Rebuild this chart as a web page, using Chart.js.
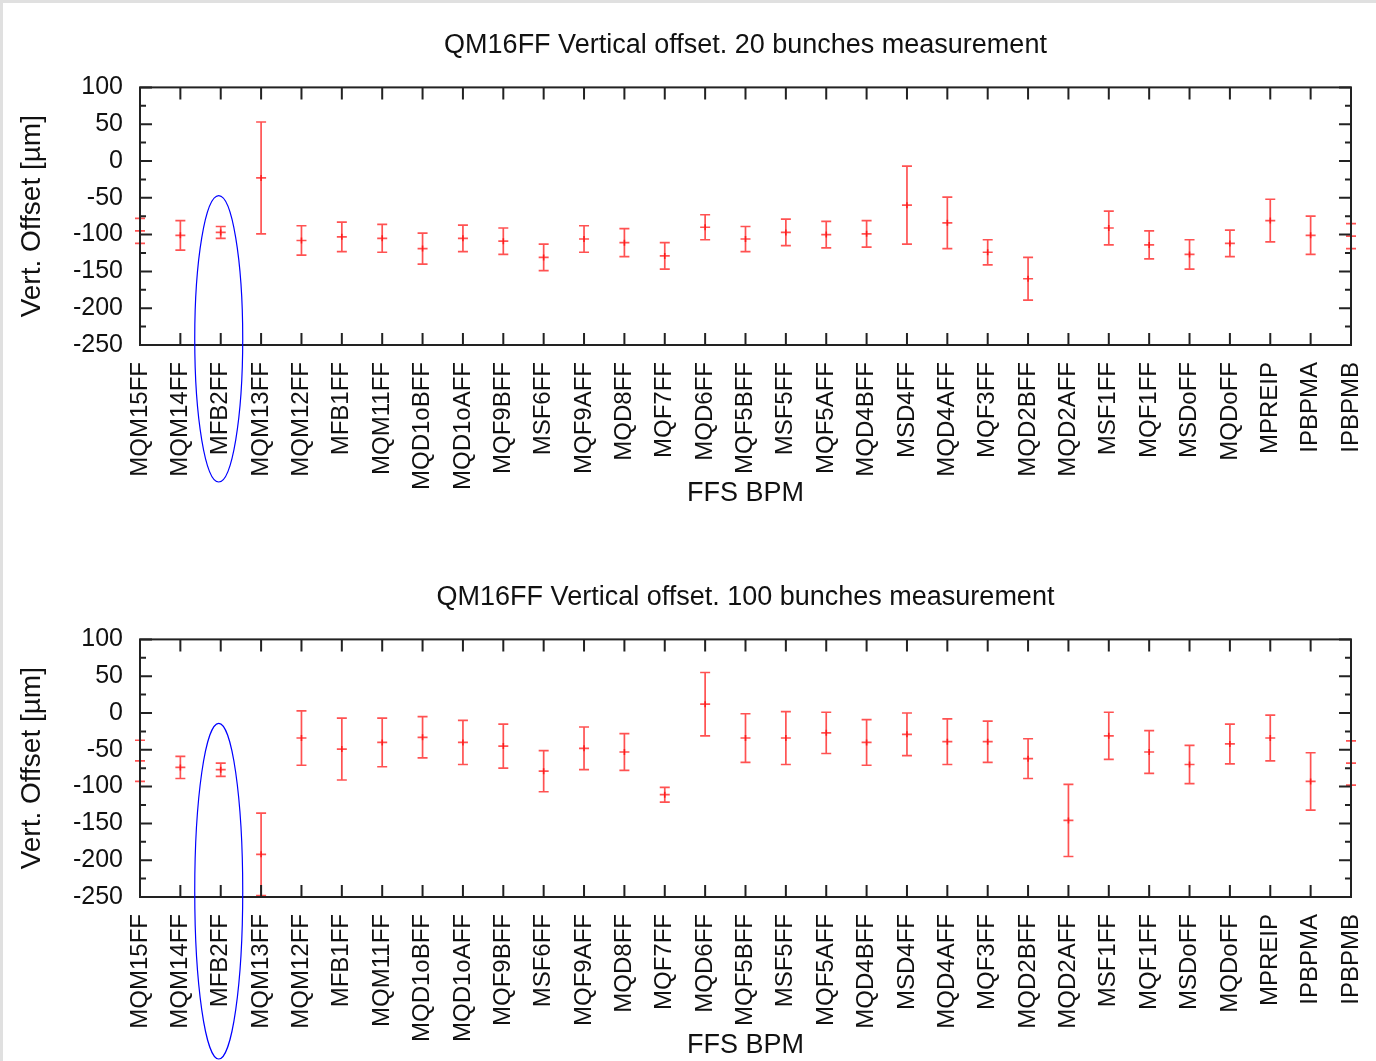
<!DOCTYPE html>
<html>
<head>
<meta charset="utf-8">
<script src="https://cdn.jsdelivr.net/npm/chart.js@4.4.0/dist/chart.umd.min.js"></script>
<style>
  html, body { margin: 0; padding: 0; background: #fff; overflow: hidden; }
  #page { position: relative; width: 1376px; height: 1061px; }
  #page canvas { position: absolute; left: 0; }
  .edge-top { position: absolute; left: 0; top: 0; width: 1376px; height: 3px; background: #e0e0e0; }
  .edge-left { position: absolute; left: 0; top: 0; width: 3px; height: 1061px; background: #e0e0e0; }
</style>
</head>
<body>
<div id="page">
  <canvas id="chart20" width="1376" height="510" style="top:0"></canvas>
  <canvas id="chart100" width="1376" height="510" style="top:552px"></canvas>
  <div class="edge-top"></div>
  <div class="edge-left"></div>
</div>
<script>
// BPM names along the final focus, upstream to IP
const bpmLabels = [
  "MQM15FF", "MQM14FF", "MFB2FF", "MQM13FF", "MQM12FF", "MFB1FF", "MQM11FF",
  "MQD1oBFF", "MQD1oAFF", "MQF9BFF", "MSF6FF", "MQF9AFF", "MQD8FF", "MQF7FF",
  "MQD6FF", "MQF5BFF", "MSF5FF", "MQF5AFF", "MQD4BFF", "MSD4FF", "MQD4AFF",
  "MQF3FF", "MQD2BFF", "MQD2AFF", "MSF1FF", "MQF1FF", "MSDoFF", "MQDoFF",
  "MPREIP", "IPBPMA", "IPBPMB"
];

// vertical offset [um] and its error, 20 bunches
const offset20 = [
  -95, -101, -97, -23, -108, -103, -105, -119, -105, -109, -131, -106, -111, -129,
  -90, -106, -97, -100, -99, -60, -84, -124, -160, null, -91, -114, -127, -112,
  -81, -101, -102
];
const error20 = [
  17, 20, 8, 76, 20, 20, 19, 21, 18, 18, 18, 18, 19, 18,
  17, 17, 18, 18, 18, 53, 35, 17, 29, null, 23, 19, 20, 18,
  29, 26, 17
];

// vertical offset [um] and its error, 100 bunches
const offset100 = [
  -65, -74, -77, -192, -34, -49, -40, -33, -40, -45, -79, -48, -53, -111,
  12, -34, -34, -27, -40, -29, -39, -39, -62, -146, -31, -53, -70, -42,
  -34, -93, -68
];
const error100 = [
  28, 15, 9, 56, 37, 42, 33, 28, 30, 30, 28, 29, 25, 10,
  43, 33, 36, 28, 31, 29, 31, 28, 27, 49, 32, 29, 26, 27,
  31, 39, 30
];

const yTicks = { min: -250, max: 100, step: 50 };

Chart.defaults.font.family = '"Liberation Sans", Arial, Helvetica, sans-serif';
Chart.defaults.color = "#111";

const frameColor = "#222";
const barColor = "rgba(255, 0, 0, 0.68)";

// gnuplot-like box with inward ticks on all four sides
const framePlugin = {
  id: "frame",
  afterDraw(chart) {
    const { ctx, chartArea: a } = chart;
    const xs = chart.scales.x;
    const ys = chart.scales.y;
    ctx.save();
    ctx.strokeStyle = frameColor;
    ctx.lineWidth = 2;
    ctx.strokeRect(a.left, a.top, a.right - a.left, a.bottom - a.top);

    ctx.beginPath();
    xs.ticks.forEach((t, i) => {
      const px = xs.getPixelForTick(i);
      ctx.moveTo(px, a.top);
      ctx.lineTo(px, a.top + 12);
      ctx.moveTo(px, a.bottom);
      ctx.lineTo(px, a.bottom - 12);
    });
    ys.ticks.forEach((t, i) => {
      const py = ys.getPixelForValue(t.value);
      ctx.moveTo(a.left, py);
      ctx.lineTo(a.left + 12, py);
      ctx.moveTo(a.right, py);
      ctx.lineTo(a.right - 12, py);
      if (i < ys.ticks.length - 1) {
        const pm = ys.getPixelForValue((t.value + ys.ticks[i + 1].value) / 2);
        ctx.moveTo(a.left, pm);
        ctx.lineTo(a.left + 6, pm);
        ctx.moveTo(a.right, pm);
        ctx.lineTo(a.right - 6, pm);
      }
    });
    ctx.stroke();
    ctx.restore();
  }
};

// error bars with caps and a small cross on the mean
const errorBarPlugin = {
  id: "errorBars",
  afterDatasetsDraw(chart) {
    const { ctx } = chart;
    const xs = chart.scales.x;
    const ys = chart.scales.y;
    const ds = chart.data.datasets[0];
    const cap = 5;
    const cross = 5;
    ctx.save();
    ctx.strokeStyle = barColor;
    ctx.lineWidth = 1.7;
    ds.data.forEach((v, i) => {
      if (v == null) return;
      const e = ds.errors[i];
      const px = xs.getPixelForValue(i);
      const yHi = ys.getPixelForValue(v + e);
      const yMid = ys.getPixelForValue(v);
      const yLo = ys.getPixelForValue(v - e);
      ctx.beginPath();
      ctx.moveTo(px, yHi);
      ctx.lineTo(px, yLo);
      ctx.moveTo(px - cap, yHi);
      ctx.lineTo(px + cap, yHi);
      ctx.moveTo(px - cap, yLo);
      ctx.lineTo(px + cap, yLo);
      ctx.stroke();
      // the mean is marked a little stronger
      ctx.beginPath();
      ctx.moveTo(px - cross, yMid);
      ctx.lineTo(px + cross, yMid);
      ctx.moveTo(px, yMid - 3);
      ctx.lineTo(px, yMid + 3);
      ctx.stroke();
    });
    ctx.restore();
  }
};

// blue ring drawn around one BPM label and its bar
function ringPlugin(index, topValue, belowAxis) {
  return {
    id: "ring",
    afterDraw(chart) {
      const { ctx, chartArea: a } = chart;
      const cx = chart.scales.x.getPixelForValue(index) - 2;
      const top = chart.scales.y.getPixelForValue(topValue);
      const bottom = a.bottom + belowAxis;
      ctx.save();
      ctx.strokeStyle = "#0000ff";
      ctx.lineWidth = 1.2;
      ctx.beginPath();
      ctx.ellipse(cx, (top + bottom) / 2, 24, (bottom - top) / 2, 0, 0, Math.PI * 2);
      ctx.stroke();
      ctx.restore();
    }
  };
}

function makePanel(id, title, values, errors, ring) {
  return new Chart(document.getElementById(id), {
    type: "line",
    data: {
      labels: bpmLabels,
      datasets: [{
        data: values,
        errors: errors,
        showLine: false,
        pointRadius: 0,
        pointHoverRadius: 0
      }]
    },
    options: {
      responsive: false,
      animation: false,
      events: [],
      layout: { padding: { left: 0, right: 25, top: 0, bottom: 0 } },
      plugins: {
        legend: { display: false },
        tooltip: { enabled: false },
        title: {
          display: true,
          text: title,
          fullSize: false,
          color: "#111",
          font: { size: 27, weight: "normal" },
          padding: { top: 29, bottom: 26 }
        }
      },
      scales: {
        x: {
          type: "category",
          offset: false,
          grid: { display: false, drawTicks: false },
          border: { display: false },
          ticks: {
            autoSkip: false,
            maxRotation: 90,
            minRotation: 90,
            padding: 17,
            color: "#111",
            font: { size: 24 }
          },
          title: {
            display: true,
            text: "FFS BPM",
            color: "#111",
            font: { size: 27 },
            padding: 0
          },
          afterFit: (s) => {
            s.height = 165;
            s.paddingLeft = 0;
            s.paddingRight = 0;
          }
        },
        y: {
          min: yTicks.min,
          max: yTicks.max,
          grid: { display: false, drawTicks: false },
          border: { display: false },
          ticks: {
            stepSize: yTicks.step,
            padding: 17,
            color: "#111",
            font: { size: 25 }
          },
          title: {
            display: true,
            text: "Vert. Offset [µm]",
            color: "#111",
            font: { size: 28 },
            padding: { top: 15, bottom: 0 }
          },
          afterFit: (s) => { s.width = 140; }
        }
      }
    },
    plugins: [errorBarPlugin, framePlugin, ring]
  });
}

makePanel("chart20", "QM16FF Vertical offset. 20 bunches measurement",
  offset20, error20, ringPlugin(2, -47, 137));
makePanel("chart100", "QM16FF Vertical offset. 100 bunches measurement",
  offset100, error100, ringPlugin(2, -14, 162));
</script>
</body>
</html>
